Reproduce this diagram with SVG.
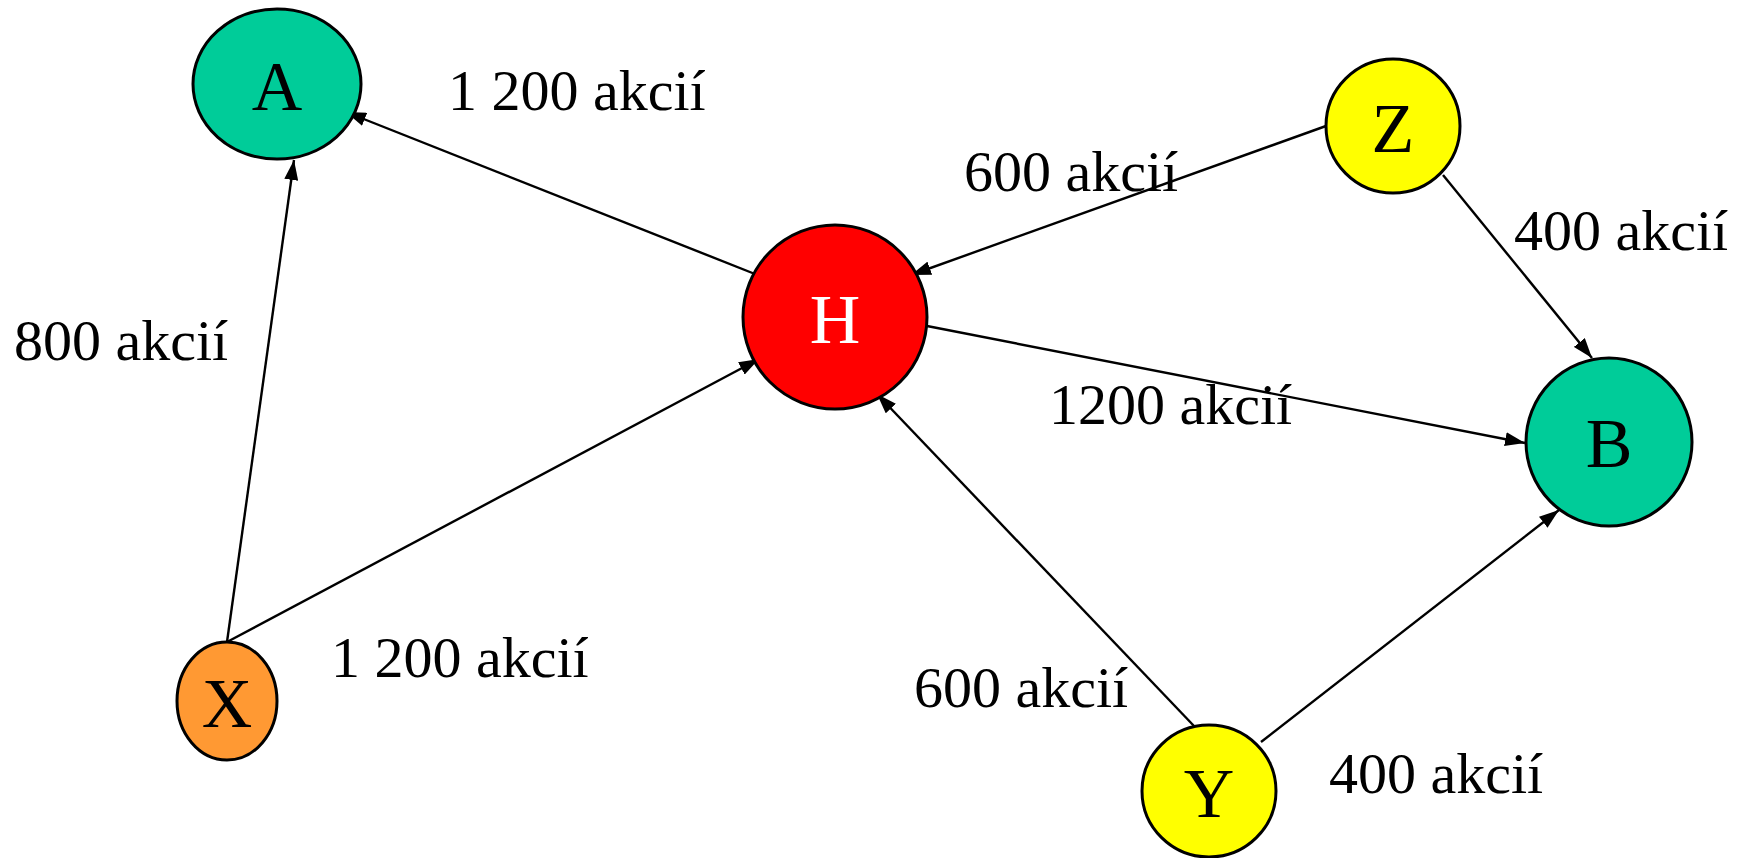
<svg xmlns="http://www.w3.org/2000/svg" width="1742" height="858" viewBox="0 0 1742 858">
<style>
.node{stroke:#000;stroke-width:3}
.nl{font-family:"Liberation Serif","Times New Roman",serif;font-size:70px;text-anchor:middle;fill:#000}
.lbl{font-family:"Liberation Serif","Times New Roman",serif;font-size:58px;fill:#000}
.edge{stroke:#000;stroke-width:2.4;fill:none;marker-end:url(#arr)}
</style>
<defs>
<marker id="arr" markerUnits="userSpaceOnUse" markerWidth="20" markerHeight="14" refX="20" refY="7" orient="auto">
<path d="M0,0 L20,7 L0,14 z" fill="#000"/>
</marker>
</defs>
<rect width="1742" height="858" fill="#fff"/>
<g id="connectors">
<line class="edge" x1="760" y1="276" x2="346" y2="112"/>
<line class="edge" x1="227" y1="642" x2="294" y2="160"/>
<line class="edge" x1="227" y1="642" x2="759" y2="359"/>
<line class="edge" x1="1326" y1="126" x2="911" y2="275"/>
<line class="edge" x1="1443" y1="175" x2="1592" y2="358"/>
<line class="edge" x1="927" y1="326" x2="1525" y2="443"/>
<line class="edge" x1="1194" y1="726" x2="877" y2="394"/>
<line class="edge" x1="1261" y1="742" x2="1559" y2="510"/>
</g>
<g id="node-A"><ellipse class="node" cx="277" cy="84" rx="84" ry="75" fill="#00CC99"/><text class="nl" x="277" y="110">A</text></g>
<g id="node-Z"><ellipse class="node" cx="1393" cy="126" rx="67" ry="67" fill="#FFFF00"/><text class="nl" x="1393" y="152">Z</text></g>
<g id="node-H"><ellipse class="node" cx="835" cy="317" rx="92" ry="92" fill="#FF0000"/><text class="nl" x="835" y="343" style="fill:#fff">H</text></g>
<g id="node-B"><ellipse class="node" cx="1609" cy="442" rx="83" ry="84" fill="#00CC99"/><text class="nl" x="1609" y="467">B</text></g>
<g id="node-X"><ellipse class="node" cx="227" cy="701" rx="50" ry="59" fill="#FF9933"/><text class="nl" x="227" y="727">X</text></g>
<g id="node-Y"><ellipse class="node" cx="1209" cy="791" rx="67" ry="66" fill="#FFFF00"/><text class="nl" x="1209" y="817">Y</text></g>
<g id="labels">
<text class="lbl" x="448" y="110">1 200 akcií</text>
<text class="lbl" x="964" y="191">600 akcií</text>
<text class="lbl" x="1514" y="250">400 akcií</text>
<text class="lbl" x="14" y="360">800 akcií</text>
<text class="lbl" x="1049" y="424">1200 akcií</text>
<text class="lbl" x="331" y="677">1 200 akcií</text>
<text class="lbl" x="914" y="707">600 akcií</text>
<text class="lbl" x="1329" y="793">400 akcií</text>
</g>
</svg>
